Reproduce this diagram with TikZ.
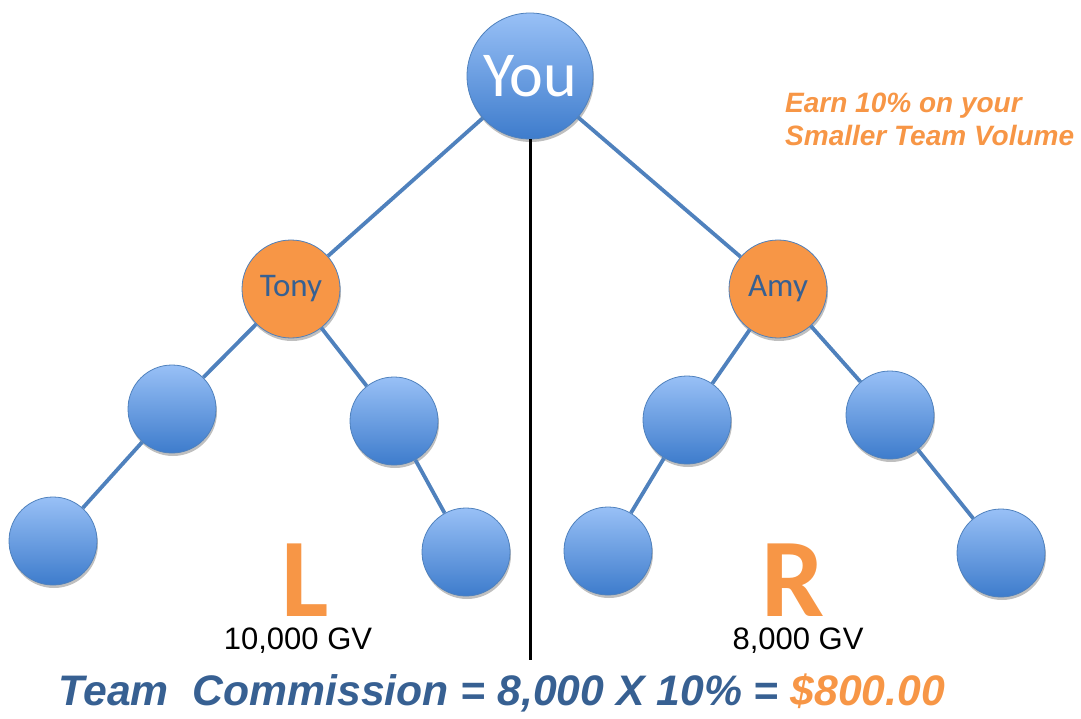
\documentclass[tikz,border=0pt]{standalone}
\usepackage{fontspec}
\setmainfont{Liberation Sans}
\newfontfamily\calfont{Carlito}
\usetikzlibrary{shadows}

\definecolor{edgeblue}{RGB}{79,129,189}
\definecolor{lightblue}{RGB}{152,192,246}
\definecolor{deepblue}{RGB}{62,124,204}
\definecolor{teamorange}{RGB}{247,150,70}
\definecolor{textblue}{RGB}{55,96,146}

\begin{document}
\begin{tikzpicture}[x=1pt,y=-1pt,
    member/.style={circle, draw=edgeblue, line width=0.8pt, inner sep=0pt, minimum size=88pt,
        top color=lightblue, bottom color=deepblue,
        drop shadow={shadow xshift=1pt, shadow yshift=-3pt, opacity=0.25, fill=black}},
    leader/.style={member, minimum size=98pt, fill=teamorange, text=textblue,
        font=\calfont\fontsize{33}{33}\selectfont},
    link/.style={edgeblue, line width=3.8pt},
    side/.style={text=teamorange, font=\calfont\bfseries\fontsize{112}{112}\selectfont, anchor=base,
        inner sep=0pt, text height=72pt, text depth=0pt},
    volume/.style={font=\fontsize{31}{31}\selectfont, anchor=base, inner sep=0pt,
        text height=23pt, text depth=6pt}]
    \useasboundingbox (0,0) rectangle (1081,719);

    % top of the tree
    \node[member, minimum size=126pt, text=white, font=\calfont\fontsize{64}{64}\selectfont] (you) at (530,76) {You};
    \node[leader, top color=teamorange, bottom color=teamorange] (tony) at (291,289) {Tony};
    \node[leader, top color=teamorange, bottom color=teamorange] (amy) at (778,289) {Amy};

    % left team
    \node[member] (tl) at (172,409) {};
    \node[member] (tr) at (394,421) {};
    \node[member] (tll) at (53,541) {};
    \node[member] (trr) at (466,552) {};

    % right team
    \node[member] (al) at (687,420) {};
    \node[member] (ar) at (890,415) {};
    \node[member] (all) at (608,551) {};
    \node[member] (arr) at (1001,553) {};

    \draw[link] (you) -- (tony);
    \draw[link] (you) -- (amy);
    \draw[link] (tony) -- (tl);
    \draw[link] (tony) -- (tr);
    \draw[link] (tl) -- (tll);
    \draw[link] (tr) -- (trr);
    \draw[link] (amy) -- (al);
    \draw[link] (amy) -- (ar);
    \draw[link] (al) -- (all);
    \draw[link] (ar) -- (arr);

    % split line
    \coordinate (split) at (530,660);
    \draw[black, line width=3pt] (you.south) -- (split);

    \node[side] (left) at (305,616) {L};
    \node[side] (right) at (793,616) {R};
    \node[volume] (leftgv) at (298,649) {10,000 GV};
    \node[volume] (rightgv) at (798,649) {8,000 GV};

    \node[anchor=north west, inner sep=0pt, align=left, text=teamorange,
          font=\bfseries\itshape\fontsize{28}{33}\selectfont] (earn) at (785,93)
          {Earn 10\% on your\\Smaller Team Volume};

    \node[anchor=base, inner sep=0pt, text=textblue,
          font=\bfseries\itshape\fontsize{42.7}{42.7}\selectfont] (total) at (502,705)
          {Team~ Commission = 8,000 X 10\% = \textcolor{teamorange}{\$800.00}};
\end{tikzpicture}
\end{document}
